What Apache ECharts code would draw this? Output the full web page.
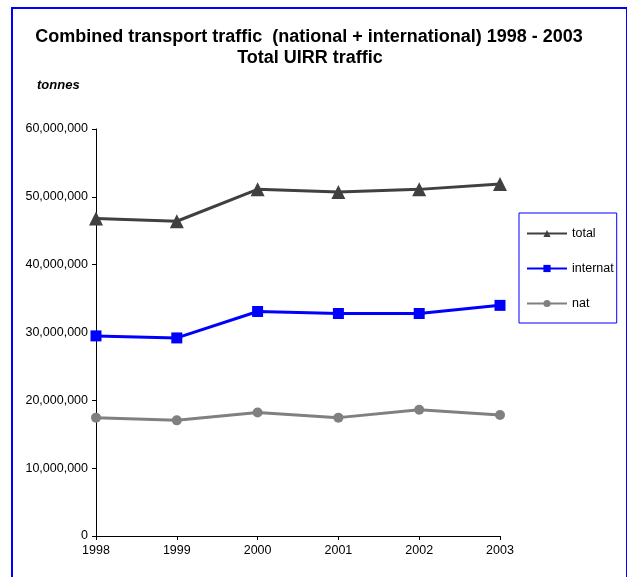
<!DOCTYPE html>
<html>
<head>
<meta charset="utf-8">
<style>
  html, body { margin: 0; padding: 0; background: #fff; }
  #chart { width: 628px; height: 577px; }
</style>
<script src="https://cdn.jsdelivr.net/npm/echarts@6/dist/echarts.min.js"></script>
</head>
<body>
<div id="chart"></div>
<script>
// Years on the category axis
const years = ['1998', '1999', '2000', '2001', '2002', '2003'];

// UIRR combined transport traffic, tonnes
const totalTraffic = [46800000, 46400000, 51100000, 50700000, 51100000, 51900000];
const internatTraffic = [29500000, 29200000, 33100000, 32800000, 32800000, 34000000];
const natTraffic = [17450000, 17050000, 18200000, 17450000, 18600000, 17850000];

// Value axis ticks
const yMin = 0;
const yMax = 60000000;
const yStep = 10000000;

const font = 'Liberation Sans, Arial, sans-serif';

const chart = echarts.init(document.getElementById('chart'), null, { renderer: 'canvas' });

chart.setOption({
  backgroundColor: '#ffffff',
  animation: false,
  textStyle: { fontFamily: font },
  graphic: [
    // blue frame
    { type: 'rect', shape: { x: 11, y: 7, width: 2, height: 570 }, style: { fill: '#0000ff' } },
    { type: 'rect', shape: { x: 11, y: 7, width: 616, height: 2 }, style: { fill: '#0000ff' } },
    { type: 'rect', shape: { x: 626, y: 7, width: 1, height: 570 }, style: { fill: '#0000ff' } },
    {
      type: 'text',
      style: {
        x: 309, y: 37, text: 'Combined transport traffic  (national + international) 1998 - 2003',
        textAlign: 'center', textVerticalAlign: 'middle',
        font: 'bold 18px ' + font, fill: '#000'
      }
    },
    {
      type: 'text',
      style: {
        x: 310, y: 58, text: 'Total UIRR traffic',
        textAlign: 'center', textVerticalAlign: 'middle',
        font: 'bold 18px ' + font, fill: '#000'
      }
    },
    {
      type: 'text',
      style: {
        x: 37, y: 85, text: 'tonnes',
        textAlign: 'left', textVerticalAlign: 'middle',
        font: 'italic bold 13px ' + font, fill: '#000'
      }
    }
  ],
  legend: {
    orient: 'vertical',
    left: 519,
    top: 213,
    borderColor: '#0000ff',
    borderWidth: 1,
    padding: [14, 3, 13, 7],
    itemGap: 22,
    itemWidth: 40,
    itemHeight: 9,
    itemTextGap: 0,
    textStyle: { fontFamily: font, fontSize: 12.5, color: '#000' },
    data: ['total', 'internat', 'nat']
  },
  grid: { left: 96, right: 128, top: 129, bottom: 41, containLabel: false },
  xAxis: {
    type: 'category',
    data: years,
    boundaryGap: false,
    axisLine: { lineStyle: { color: '#000', width: 1 } },
    axisTick: { show: true, length: 4, alignWithLabel: true, lineStyle: { color: '#000' } },
    axisLabel: { color: '#000', fontSize: 12.5, fontFamily: font, margin: 8 },
    splitLine: { show: false }
  },
  yAxis: {
    type: 'value',
    min: yMin,
    max: yMax,
    interval: yStep,
    axisLine: { show: true, lineStyle: { color: '#000', width: 1 } },
    axisTick: { show: true, length: 4, lineStyle: { color: '#000' } },
    axisLabel: {
      color: '#000', fontSize: 12.5, fontFamily: font, margin: 8,
      formatter: v => v.toLocaleString('en-US')
    },
    splitLine: { show: false }
  },
  series: [
    {
      name: 'total', type: 'line', data: totalTraffic,
      symbol: 'triangle', symbolSize: 14,
      lineStyle: { color: '#404040', width: 3 },
      itemStyle: { color: '#404040' }
    },
    {
      name: 'internat', type: 'line', data: internatTraffic,
      symbol: 'rect', symbolSize: 11,
      lineStyle: { color: '#0000ff', width: 3 },
      itemStyle: { color: '#0000ff' }
    },
    {
      name: 'nat', type: 'line', data: natTraffic,
      symbol: 'circle', symbolSize: 10,
      lineStyle: { color: '#808080', width: 3 },
      itemStyle: { color: '#808080' }
    }
  ]
});
</script>
</body>
</html>
